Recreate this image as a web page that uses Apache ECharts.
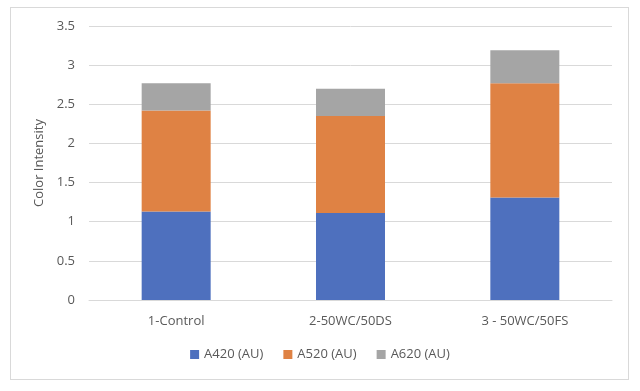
<!DOCTYPE html>
<html><head><meta charset="utf-8">
<script src="https://cdn.jsdelivr.net/npm/echarts@6/dist/echarts.min.js"></script>
<style>html,body{margin:0;padding:0;background:#fff}#c{width:640px;height:391px}
#frame{position:absolute;left:10px;top:7px;width:619px;height:373px;border:1px solid #d9d9d9;box-sizing:border-box;pointer-events:none}</style>
</head><body><div id="c"></div><div id="frame"></div>
<script>
const categories = ['1-Control', '2-50WC/50DS', '3 - 50WC/50FS'];
const a420 = [1.13, 1.11, 1.31];
const a520 = [1.29, 1.24, 1.46];
const a620 = [0.35, 0.35, 0.42];
const seriesNames = ['A420 (AU)', 'A520 (AU)', 'A620 (AU)'];
const colors = ['#4E70BE', '#DF8244', '#A5A5A5'];
const font = '"Open Sans", Arial, sans-serif';
const chart = echarts.init(document.getElementById('c'));
const mk = (name, data, color) => ({
  name, type: 'bar', stack: 's', data, barWidth: 69,
  itemStyle: { color }, emphasis: { disabled: true }
});
chart.setOption({
  animation: false,
  grid: { left: 89, right: 28, top: 26, bottom: 91 },
  legend: {
    bottom: 25, left: 'center', itemWidth: 9, itemHeight: 9, itemGap: 20,
    icon: 'rect',
    textStyle: { color: '#595959', fontSize: 13, fontFamily: font }
  },
  xAxis: {
    type: 'category', data: categories,
    axisLine: { lineStyle: { color: '#d9d9d9' } },
    axisTick: { show: false },
    axisLabel: { color: '#595959', fontSize: 13, fontFamily: font, margin: 15 }
  },
  yAxis: {
    type: 'value', min: 0, max: 3.5, interval: 0.5,
    name: 'Color Intensity', nameLocation: 'middle', nameGap: 40,
    nameTextStyle: { color: '#595959', fontSize: 13, fontFamily: font },
    axisLine: { show: false }, axisTick: { show: false },
    splitLine: { lineStyle: { color: '#d9d9d9' } },
    axisLabel: { color: '#595959', fontSize: 13, fontFamily: font, margin: 14 }
  },
  series: [mk(seriesNames[0], a420, colors[0]), mk(seriesNames[1], a520, colors[1]), mk(seriesNames[2], a620, colors[2])]
});
</script></body></html>
